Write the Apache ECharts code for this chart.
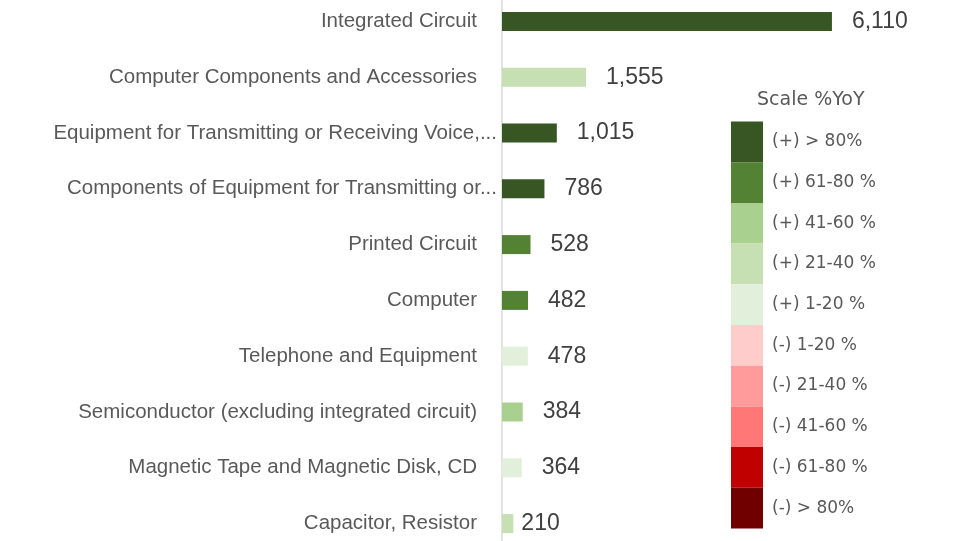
<!DOCTYPE html>
<html>
<head>
<meta charset="utf-8">
<script src="https://cdn.jsdelivr.net/npm/echarts@6/dist/echarts.min.js"></script>
<style>
  html, body { margin: 0; padding: 0; background: #ffffff; }
  #chart { width: 961px; height: 541px; }
</style>
</head>
<body>
<div id="chart"></div>
<script>
// Product categories, top to bottom
const categories = [
  'Integrated Circuit',
  'Computer Components and Accessories',
  'Equipment for Transmitting or Receiving Voice,...',
  'Components of Equipment for Transmitting or...',
  'Printed Circuit',
  'Computer',
  'Telephone and Equipment',
  'Semiconductor (excluding integrated circuit)',
  'Magnetic Tape and Magnetic Disk, CD',
  'Capacitor, Resistor'
];

// Values per category
const values = [6110, 1555, 1015, 786, 528, 482, 478, 384, 364, 210];

// YoY change class per category (index into the scale below)
const yoyClass = [0, 3, 0, 0, 1, 1, 4, 2, 4, 3];

// Scale of YoY change classes
const scaleLabels = [
  '(+) > 80%', '(+) 61-80 %', '(+) 41-60 %', '(+) 21-40 %', '(+) 1-20 %',
  '(-) 1-20 %', '(-) 21-40 %', '(-) 41-60 %', '(-) 61-80 %', '(-) > 80%'
];
const scaleColors = [
  '#375623', '#548235', '#a9d08e', '#c6e0b4', '#e2efda',
  '#ffcccc', '#ff9b9b', '#ff7777', '#c00000', '#700000'
];

const sans = '"Liberation Sans", Arial, sans-serif';

const seriesData = values.map((v, i) => {
  const item = { value: [v, categories[i], yoyClass[i]] };
  if (i === values.length - 1) item.label = { distance: 8 };
  return item;
});

const chart = echarts.init(document.getElementById('chart'), null, { renderer: 'canvas' });
chart.setOption({
  animation: false,
  backgroundColor: '#ffffff',
  title: {
    text: 'Scale %YoY',
    left: 757,
    top: 91,
    padding: 0,
    textStyle: { fontFamily: '"DejaVu Sans", sans-serif', fontSize: 19, fontWeight: 'normal', color: '#595959' }
  },
  grid: { left: 502, top: -6.5, width: 432, height: 558, containLabel: false, outerBoundsMode: 'none' },
  xAxis: {
    type: 'value',
    min: 0,
    max: 8000,
    show: false
  },
  yAxis: {
    type: 'category',
    data: categories,
    inverse: true,
    axisLine: { show: true, lineStyle: { color: '#d9d9d9', width: 1.5 } },
    axisTick: { show: false },
    axisLabel: {
      margin: 5,
      fontFamily: sans,
      fontSize: 20.5,
      color: '#595959',
      // shortened names run up to the axis; full names keep a wider gap
      formatter: v => v.endsWith('...') ? '{cut|' + v + '}' : '{full|' + v + '}',
      rich: {
        full: { fontFamily: sans, fontSize: 20.5, color: '#595959', padding: [0, 20, 0, 0] },
        cut: { fontFamily: sans, fontSize: 20.5, color: '#595959' }
      }
    },
    splitLine: { show: false }
  },
  visualMap: {
    type: 'piecewise',
    dimension: 2,
    seriesIndex: 0,
    orient: 'vertical',
    inverse: true,
    align: 'left',
    left: 731,
    top: 121.5,
    padding: 0,
    itemWidth: 32,
    itemHeight: 40.7,
    itemGap: 0,
    itemSymbol: 'rect',
    textGap: 9,
    selectedMode: false,
    hoverLink: false,
    pieces: scaleLabels.map((label, i) => ({ value: i, label: label, color: scaleColors[i] })),
    textStyle: { fontFamily: '"DejaVu Sans", sans-serif', fontSize: 17, color: '#595959' }
  },
  series: [{
    type: 'bar',
    encode: { x: 0, y: 1 },
    barWidth: 19,
    data: seriesData,
    label: {
      show: true,
      position: 'right',
      distance: 20,
      fontFamily: sans,
      fontSize: 23,
      color: '#404040',
      formatter: p => p.value[0].toLocaleString('en-US')
    }
  }]
});
</script>
</body>
</html>
